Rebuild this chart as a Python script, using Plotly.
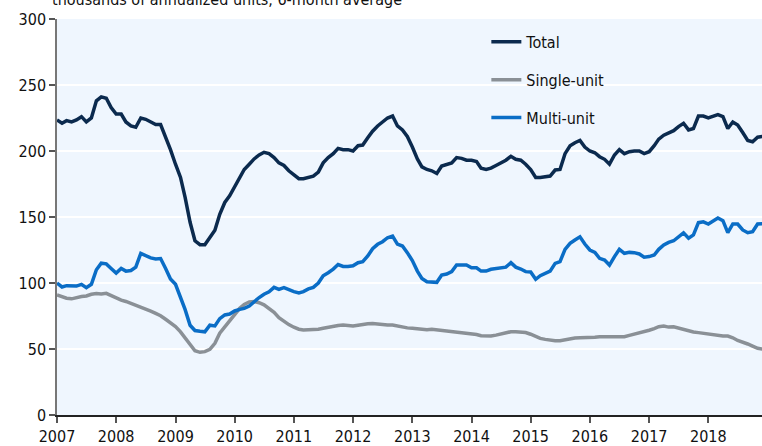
import plotly.graph_objects as go
import pandas as pd

months = pd.date_range("2007-01-01", periods=144, freq="MS")

total = [223.5, 221, 223, 222, 223.5, 226, 222, 225, 238, 241, 240, 233,
         228, 228, 222, 219, 218, 225, 224, 222, 220, 220, 211, 201,
         190, 180, 165, 146, 132, 129, 129, 134, 140, 152, 161, 166,
         173, 181, 186, 190, 194, 197, 199, 198, 195, 191, 189, 185,
         182, 179, 179, 180, 181, 184, 191, 195, 198, 202, 201, 201,
         200, 204, 204.5, 210, 215, 219, 222, 225, 226.5, 219, 216, 211,
         203, 194, 188, 186, 185, 183, 188.6, 189.5, 191, 195, 194.4, 193,
         193, 192, 187, 186, 187, 189, 191, 193, 196, 193.7, 193, 190,
         186, 180, 180, 180.5, 181, 185.6, 186, 198, 204, 206.3, 208, 203,
         200, 198.7, 195.7, 193.7, 190, 197, 201, 198, 199.5, 200, 200, 198,
         199.5, 204, 209, 212, 214, 215.4, 218.5, 221, 216, 217, 226.5, 226.5,
         225, 226.5, 227.5, 226, 217, 222, 219.7, 214, 208, 207, 210.4, 211]

single = [90.9, 89.5, 88.5, 88, 89, 89.8, 90.2, 91.5, 92, 91.7, 92.2, 90.5,
          88.5, 87, 86, 84.6, 83.3, 81.5, 80.3, 78.7, 77, 75.2, 72.5, 70,
          67, 63, 58.5, 53, 48.7, 47.5, 48, 49.7, 54.3, 62, 66.9, 72,
          76.5, 80.8, 83.8, 85.6, 85.9, 85.1, 83.5, 81, 77.8, 73.8, 71, 68.5,
          66.5, 65, 64.4, 64.4, 64.4, 65, 65.7, 66.5, 67.4, 67.8, 68.2, 68,
          67.4, 68, 68.9, 69.2, 69.4, 69, 68.2, 68.2, 68.2, 67.5, 66.4, 66,
          65.7, 65.2, 64.5, 64.6, 64.9, 64.5, 64, 63.5, 63.1, 62.8, 62.4, 62.2,
          61.9, 61, 60, 59.8, 59.8, 60.5, 61.4, 62.2, 63.1, 63.1, 63.1, 62.5,
          61.2, 59.5, 58, 57.3, 56.5, 56.3, 56.3, 57, 58.1, 58.4, 58.6, 58.6,
          58.6, 58.9, 59.3, 59.3, 59.3, 59.3, 59.3, 59.3, 60.3, 61.2, 62, 62.9,
          64.2, 65.5, 66.9, 67.4, 66.6, 66.9, 65.8, 64.9, 64, 62.9, 62.4, 61.9,
          61.3, 60.6, 60.2, 59.8, 59.8, 58.5, 56.5, 55.3, 53.8, 52.2, 50.5, 50]

multi = [100, 97, 98, 98, 97.7, 99, 96.5, 99, 110, 115, 114.5, 111,
         107.5, 111, 109, 109.5, 112, 122.5, 120.5, 119, 118.2, 118.5, 111, 103,
         99, 89.5, 80, 68, 64, 63.4, 63, 68, 67.5, 73, 75.8, 76.5,
         78.8, 80, 80.8, 82.6, 85.9, 89, 91.5, 93.4, 96.7, 95.2, 96.5, 94.7,
         93.5, 92.5, 93.5, 95.5, 96.7, 100, 105.5, 107.8, 110.5, 114, 112.5, 112.5,
         113, 115.4, 116.2, 120.5, 126, 129.3, 131.3, 134.3, 135.6, 129.5, 128, 123,
         117, 109, 103.5, 101, 100.5, 100.5, 106, 106.8, 108.6, 113.6, 113.6, 113.6,
         111.5, 111.5, 109, 109, 110.4, 111, 112, 112, 115.4, 112, 110.6, 108.6,
         108.3, 102.8, 105.5, 107, 109, 114.9, 116.2, 125.5, 130, 132.6, 135, 129.5,
         125, 123.2, 118.7, 117.4, 113.6, 120, 125.5, 122.5, 123.2, 123, 122, 119.5,
         120, 121.2, 125.5, 128.8, 130.8, 132, 135, 138, 134, 136.4, 145.7, 146.3,
         144.7, 147.2, 149.2, 147.2, 138.1, 144.7, 144.7, 140.2, 138.1, 138.9, 144.7, 145]

series_names = ["Total", "Single-unit", "Multi-unit"]
series_colors = ["#0B2A4E", "#8A9096", "#0A6DC6"]
year_ticks = [f"{y}-01-01" for y in range(2007, 2019)]
year_labels = [str(y) for y in range(2007, 2019)]

fig = go.Figure()
for name, vals, col in zip(series_names, [total, single, multi], series_colors):
    fig.add_trace(go.Scatter(x=months, y=vals, mode="lines", name=name,
                             legendgroup=name,
                             line=dict(color=col, width=3.5)))

tick_font = dict(family="DejaVu Sans Condensed, sans-serif",
                 size=16, color="#111111")

fig.update_layout(
    width=762, height=446,
    margin=dict(l=57, r=0, t=19, b=31),
    paper_bgcolor="white",
    plot_bgcolor="#EFF6FE",
    showlegend=True,
    legend=dict(x=0.609, y=0.985, xanchor="left", yanchor="top",
                bgcolor="rgba(0,0,0,0)", tracegroupgap=14,
                font=dict(family="DejaVu Sans Condensed, DejaVu Sans, sans-serif",
                          size=16, color="#111111")),
    xaxis=dict(type="date", range=["2007-01-01", "2018-11-28"],
               tickvals=year_ticks, ticktext=year_labels, automargin=False,
               showgrid=False, showline=True, linecolor="#222222", linewidth=1.5,
               ticks="outside", ticklen=6, tickcolor="#555555", tickwidth=1.5,
               tickfont=tick_font, zeroline=False),
    yaxis=dict(range=[0, 300], dtick=50, tick0=0, automargin=False,
               showgrid=True, gridcolor="white", gridwidth=1.5,
               showline=True, linecolor="#777777", linewidth=1.5,
               ticks="outside", ticklen=6, tickcolor="#555555", tickwidth=1.5,
               tickfont=tick_font, zeroline=False),
    annotations=[dict(text="thousands of annualized units, 6-month average",
                      xref="paper", yref="paper", x=-0.01, y=1.021,
                      xanchor="left", yanchor="bottom", showarrow=False,
                      font=dict(family="DejaVu Sans Condensed, DejaVu Sans, sans-serif",
                                size=16, color="#111111"))],
)

fig.write_html("out.html", config={"displayModeBar": False},
               post_script="document.body.style.margin='0';document.body.style.overflow='hidden';")
